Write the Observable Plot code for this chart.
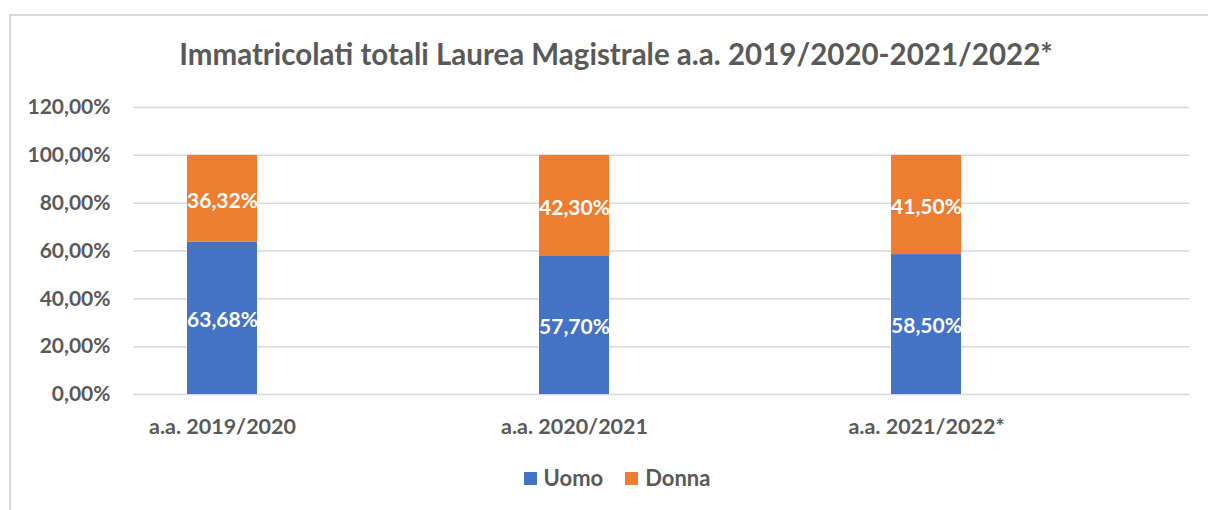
<!DOCTYPE html>
<html>
<head>
<meta charset="utf-8">
<script src="https://cdn.jsdelivr.net/npm/d3@7"></script>
<script src="https://cdn.jsdelivr.net/npm/@observablehq/plot@0.6"></script>
<style>
  html, body { margin: 0; padding: 0; background: #fff; }
  #wrap { position: relative; width: 1208px; height: 510px; overflow: hidden; font-family: Lato, "Open Sans", sans-serif; }
  #frame { position: absolute; left: 9px; top: 14px; width: 1300px; height: 600px; border-top: 2px solid #d9d9d9; border-left: 2px solid #d9d9d9; }
  #title { position: absolute; left: 0; width: 1232px; top: 36px; line-height: 36px; text-align: center; font-weight: 700; font-size: 29.5px; color: #595959; white-space: nowrap; }
  #chart { position: absolute; left: 0; top: 0; }
  #legend { position: absolute; top: 463px; left: 0; width: 1234px; line-height: 30px; display: flex; justify-content: center; gap: 22px; font-weight: 700; font-size: 22px; color: #595959; }
  #legend span.item { display: flex; align-items: center; gap: 7px; }
  #legend span.sw { display: inline-block; width: 13px; height: 13px; }
</style>
</head>
<body>
<div id="wrap">
  <div id="frame"></div>
  <div id="title">Immatricolati totali Laurea Magistrale a.a. 2019/2020-2021/2022*</div>
  <div id="chart"></div>
  <div id="legend"></div>
</div>
<script>
const categories = ["a.a. 2019/2020", "a.a. 2020/2021", "a.a. 2021/2022*"];
const seriesNames = ["Uomo", "Donna"];
const uomo = [63.68, 57.70, 58.50];
const donna = [36.32, 42.30, 41.50];
const yTicks = [0, 20, 40, 60, 80, 100, 120];
const colors = ["#4472C4", "#ED7D31"];

const rows = [];
categories.forEach((c, i) => {
  rows.push({cat: c, series: "Uomo", value: uomo[i]});
  rows.push({cat: c, series: "Donna", value: donna[i]});
});
const fmt = v => v.toFixed(2).replace(".", ",") + "%";

const chart = Plot.plot({
  width: 1208,
  height: 450,
  marginLeft: 133,
  marginRight: 19,
  marginTop: 107,
  marginBottom: 56,
  style: {fontFamily: "Lato, 'Open Sans', sans-serif", background: "transparent"},
  x: {domain: categories, paddingInner: 0.8, paddingOuter: 0.4, align: 0.19, label: null},
  y: {domain: [0, 120], label: null},
  color: {domain: seriesNames, range: colors},
  marks: [
    Plot.ruleY(yTicks, {stroke: "#d9d9d9", strokeWidth: 1.5}),
    Plot.barY(rows, Plot.stackY({x: "cat", y: "value", fill: "series", order: seriesNames})),
    Plot.text(rows, Plot.stackY({x: "cat", y: "value", z: "series", order: seriesNames, text: d => fmt(d.value), fill: "white", fontWeight: 700, fontSize: 21, dy: 2})),
    Plot.axisY({ticks: yTicks, tickFormat: fmt, tickSize: 0, tickPadding: 23, fontSize: 21, fontWeight: 700, fill: "#595959", label: null}),
    Plot.axisX({tickSize: 0, tickPadding: 24, fontSize: 21.5, fontWeight: 700, fill: "#595959", label: null})
  ]
});
document.getElementById("chart").appendChild(chart);

const legend = document.getElementById("legend");
seriesNames.forEach((s, i) => {
  const item = document.createElement("span");
  item.className = "item";
  const sw = document.createElement("span");
  sw.className = "sw";
  sw.style.background = colors[i];
  const t = document.createElement("span");
  t.textContent = s;
  item.appendChild(sw);
  item.appendChild(t);
  legend.appendChild(item);
});
</script>
</body>
</html>
